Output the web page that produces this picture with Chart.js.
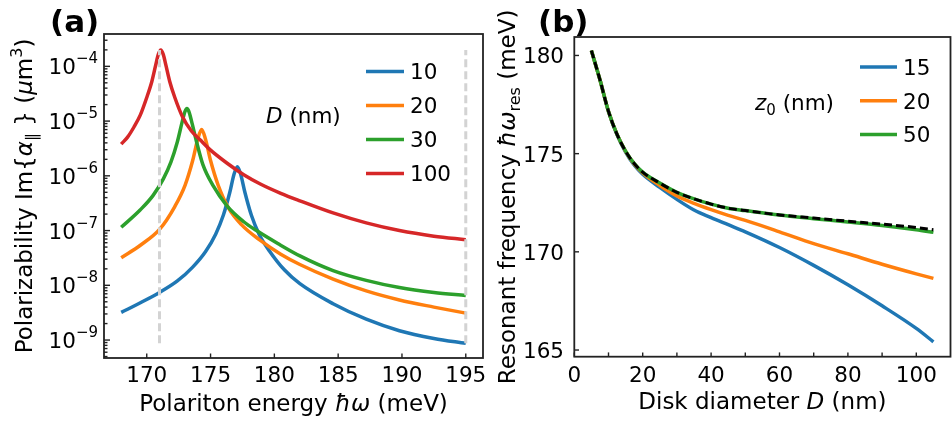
<!DOCTYPE html>
<html>
<head>
<meta charset="utf-8">
<script src="https://cdn.jsdelivr.net/npm/chart.js@4.4.1/dist/chart.umd.min.js"></script>
<style>
  body { margin: 0; background: #fff; }
  #wrap { position: relative; width: 952px; height: 424px; }
  #wrap canvas { position: absolute; left: 0; top: 0; }
</style>
</head>
<body>
<div id="wrap">
  <canvas id="chartA" width="952" height="424"></canvas>
  <canvas id="chartB" width="952" height="424"></canvas>
</div>
<script>
// ---------- panel (a): Im{alpha} vs polariton energy, one curve per D ----------
const aTickX = [170, 175, 180, 185, 190, 195];
const aTickExp = [-9, -8, -7, -6, -5, -4];
const aNames = ['10', '20', '30', '100'];

const e10 = [168, 169.5, 171, 172.4, 173.6, 174.6, 175.4, 176, 176.5, 176.85, 177.1, 177.35, 177.7, 178.2, 178.8, 179.6, 180.8, 182, 184.6, 187.2, 189.8, 192.5, 195];
const a10 = [3.2e-9, 4.8e-9, 7.4e-9, 1.2e-8, 2.15e-8, 4.1e-8, 8.6e-8, 1.9e-7, 4.9e-7, 1.09e-6, 1.46e-6, 1.09e-6, 4.9e-7, 1.9e-7, 8.6e-8, 4.3e-8, 1.9e-8, 1.07e-8, 4.6e-9, 2.4e-9, 1.48e-9, 1.07e-9, 8.7e-10];

const e20 = [168, 169.5, 171, 172.2, 173, 173.6, 174, 174.3, 174.6, 175, 175.6, 176.4, 177.4, 178.9, 180.5, 182, 184.6, 187.2, 189.8, 192.5, 195];
const a20 = [3.2e-8, 5.4e-8, 1.05e-7, 2.75e-7, 6.7e-7, 1.9e-6, 4.7e-6, 7.0e-6, 4.7e-6, 1.9e-6, 6.7e-7, 2.6e-7, 1.3e-7, 6.6e-8, 3.7e-8, 2.4e-8, 1.3e-8, 7.9e-9, 5.4e-9, 4.0e-9, 3.1e-9];

const e30 = [168, 169.5, 170.5, 171.3, 171.9, 172.4, 172.8, 173, 173.15, 173.3, 173.5, 173.9, 174.4, 175.2, 176.3, 177.6, 178.6, 180.3, 182, 184.6, 187.2, 189.8, 192.5, 195];
const a30 = [1.15e-7, 2.4e-7, 4.4e-7, 8.8e-7, 1.8e-6, 4.2e-6, 1.02e-5, 1.5e-5, 1.7e-5, 1.5e-5, 1.02e-5, 4.2e-6, 1.6e-6, 6.6e-7, 2.8e-7, 1.45e-7, 1.0e-7, 5.75e-8, 3.45e-8, 1.86e-8, 1.23e-8, 9.1e-9, 7.4e-9, 6.5e-9];

const e100 = [168, 168.5, 169, 169.5, 170, 170.4, 170.7, 170.9, 171.1, 171.3, 171.5, 171.8, 172.2, 172.8, 173.5, 174.2, 175, 176.3, 177.6, 178.9, 180.5, 182, 184.6, 187.2, 189.8, 192.5, 195];
const a100 = [3.8e-6, 5.1e-6, 7.8e-6, 1.3e-5, 2.7e-5, 5.3e-5, 1.05e-4, 1.64e-4, 2.0e-4, 1.64e-4, 1.05e-4, 5.3e-5, 2.7e-5, 1.2e-5, 6.6e-6, 4.5e-6, 2.95e-6, 1.7e-6, 1.05e-6, 7.1e-7, 4.8e-7, 3.5e-7, 2.1e-7, 1.38e-7, 1.0e-7, 7.9e-8, 6.8e-8];

// grey dashed markers
const markX = [171, 195];
const markLo = 8.7e-10, markHi = 2.0e-4;

// ---------- panel (b): resonance vs disk diameter ----------
const bTickX = [0, 20, 40, 60, 80, 100];
const bMinorX = [10, 30, 50, 70, 90];
const bTickY = [165, 170, 175, 180];
const bNames = ['15', '20', '50'];

const diam = [5, 7.5, 10, 12.5, 15, 17.5, 20, 25, 30, 35, 40, 45, 50, 60, 70, 80, 90, 100, 105];
const res15 = [180.25, 178.76, 177.14, 175.96, 175.08, 174.42, 173.95, 173.28, 172.67, 172.13, 171.74, 171.38, 171.02, 170.22, 169.31, 168.32, 167.25, 166.1, 165.42];
const res20 = [180.25, 178.76, 177.15, 175.98, 175.12, 174.48, 174.02, 173.38, 172.85, 172.47, 172.15, 171.86, 171.6, 171.02, 170.42, 169.9, 169.37, 168.88, 168.65];
const res50 = [180.25, 178.76, 177.15, 175.98, 175.13, 174.5, 174.06, 173.5, 173.03, 172.7, 172.43, 172.22, 172.1, 171.87, 171.69, 171.52, 171.34, 171.12, 170.99];
const resLim = [180.25, 178.76, 177.15, 175.98, 175.13, 174.5, 174.06, 173.5, 173.03, 172.7, 172.43, 172.22, 172.1, 171.88, 171.72, 171.56, 171.41, 171.24, 171.13];

const C = ['#1f77b4', '#ff7f0e', '#2ca02c', '#d62728'];
const FF = 'DejaVu Sans';
const fN = '21.5px ' + FF, fI = 'italic 21.5px ' + FF, fS = '15px ' + FF;
const fT = '23px ' + FF, fTI = 'italic 23px ' + FF, fTS = '16px ' + FF;

function pts(xs, ys) {
  return xs.map((x, i) => ({ x: x, y: ys[i] }));
}

function curve(xs, ys, color, order, extra) {
  return Object.assign({
    data: pts(xs, ys),
    borderColor: color,
    borderWidth: 3.5,
    pointRadius: 0,
    fill: false,
    cubicInterpolationMode: 'monotone',
    order: order
  }, extra || {});
}

// text made of pieces: [text, font, dy]
function rich(ctx, parts, x, y, align, rot) {
  ctx.save();
  ctx.translate(x, y);
  if (rot) ctx.rotate(rot);
  ctx.textAlign = 'left';
  ctx.textBaseline = 'alphabetic';
  ctx.fillStyle = '#000';
  let w = 0;
  parts.forEach(p => { ctx.font = p[1]; w += ctx.measureText(p[0]).width; });
  let cx = align === 'center' ? -w / 2 : (align === 'right' ? -w : 0);
  parts.forEach(p => {
    ctx.font = p[1];
    ctx.fillText(p[0], cx, p[2] || 0);
    cx += ctx.measureText(p[0]).width;
  });
  ctx.restore();
}

function tick(ctx, x1, y1, x2, y2) {
  ctx.beginPath();
  ctx.moveTo(x1, y1);
  ctx.lineTo(x2, y2);
  ctx.stroke();
}

function legend(ctx, names, colors, x1, x2, y0, step) {
  names.forEach((n, i) => {
    const y = y0 + i * step;
    ctx.strokeStyle = colors[i];
    ctx.lineWidth = 3.5;
    tick(ctx, x1, y, x2, y);
    rich(ctx, [[n, fN]], x2 + 6, y + 7.8, 'left');
  });
}

const decorA = {
  id: 'decorA',
  afterDraw(chart) {
    const ctx = chart.ctx, a = chart.chartArea;
    const sx = chart.scales.x, sy = chart.scales.y;
    ctx.save();
    ctx.strokeStyle = '#222';
    ctx.lineWidth = 1.4;
    aTickX.forEach(v => {
      const px = sx.getPixelForValue(v);
      tick(ctx, px, a.bottom, px, a.bottom - 4.5);
      rich(ctx, [[String(v), fN]], px, 381.5, 'center');
    });
    for (let e = -10; e <= -3; e++) {
      for (let m = 1; m <= 9; m++) {
        const v = m * Math.pow(10, e);
        if (v < sy.min || v > sy.max) continue;
        const py = sy.getPixelForValue(v);
        tick(ctx, a.left, py, a.left + (m === 1 ? 6 : 3.5), py);
      }
    }
    aTickExp.forEach(e => {
      const py = sy.getPixelForValue(Math.pow(10, e));
      rich(ctx, [['10', fN], ['\u2212' + Math.abs(e), fS, -11]], 98, py + 8, 'right');
    });
    ctx.lineWidth = 1.8;
    ctx.strokeRect(a.left, a.top, a.right - a.left, a.bottom - a.top);
    legend(ctx, aNames, C, 366, 404, 71.5, 34);
    rich(ctx, [['D', fI], [' (nm)', fN]], 266, 123, 'left');
    rich(ctx, [['Polariton energy ', fT], ['\u0127\u03c9', fTI], [' (meV)', fT]], (a.left + a.right) / 2, 410.5, 'center');
    rich(ctx, [['Polarizability Im{', fT], ['\u03b1', fTI], ['\u2225', fTS, 5], [' } (', fT], ['\u03bc', fTI], ['m', fT], ['3', fTS, -10], [')', fT]],
      31.5, (a.top + a.bottom) / 2, 'center', -Math.PI / 2);
    rich(ctx, [['(a)', 'bold 31px ' + FF]], 50, 31.5, 'left');
    ctx.restore();
  }
};

const decorB = {
  id: 'decorB',
  afterDraw(chart) {
    const ctx = chart.ctx, a = chart.chartArea;
    const sx = chart.scales.x, sy = chart.scales.y;
    ctx.save();
    ctx.strokeStyle = '#222';
    ctx.lineWidth = 1.4;
    bTickX.concat(bMinorX).forEach(v => {
      const px = sx.getPixelForValue(v);
      tick(ctx, px, a.bottom, px, a.bottom - 4.3);
    });
    bTickX.forEach(v => {
      rich(ctx, [[String(v), fN]], sx.getPixelForValue(v), 381.5, 'center');
    });
    bTickY.forEach(v => {
      const py = sy.getPixelForValue(v);
      tick(ctx, a.left, py, a.left + 4.7, py);
      rich(ctx, [[String(v), fN]], 564, py + 8, 'right');
    });
    ctx.lineWidth = 1.8;
    ctx.strokeRect(a.left, a.top, a.right - a.left, a.bottom - a.top);
    legend(ctx, bNames, C, 860, 897, 67, 33.8);
    rich(ctx, [['z', fI], ['0', fS, 5], [' (nm)', fN]], 755, 110, 'left');
    rich(ctx, [['Disk diameter ', fT], ['D', fTI], [' (nm)', fT]], (a.left + a.right) / 2, 408.5, 'center');
    rich(ctx, [['Resonant frequency ', fT], ['\u0127\u03c9', fTI], ['res', fTS, 5], [' (meV)', fT]],
      515, (a.top + a.bottom) / 2, 'center', -Math.PI / 2);
    rich(ctx, [['(b)', 'bold 31px ' + FF]], 538, 31.5, 'left');
    ctx.restore();
  }
};

const common = {
  responsive: false,
  animation: false,
  events: [],
  plugins: { legend: { display: false }, tooltip: { enabled: false } }
};

new Chart(document.getElementById('chartA'), {
  type: 'line',
  data: {
    datasets: [
      curve(e10, a10, C[0], 5),
      curve(e20, a20, C[1], 4),
      curve(e30, a30, C[2], 3),
      curve(e100, a100, C[3], 2),
      curve([markX[0], markX[0]], [markLo, markHi], '#d3d3d3', 1, { borderWidth: 3, borderDash: [8, 4], cubicInterpolationMode: 'default' }),
      curve([markX[1], markX[1]], [markLo, markHi], '#d3d3d3', 1, { borderWidth: 3, borderDash: [8, 4], cubicInterpolationMode: 'default' })
    ]
  },
  options: Object.assign({}, common, {
    layout: { padding: { left: 104, top: 34, right: 952 - 483, bottom: 424 - 358 } },
    scales: {
      x: { type: 'linear', display: false, min: 166.65, max: 196.35 },
      y: { type: 'logarithmic', display: false, min: 4.7e-10, max: 3.9e-4 }
    }
  }),
  plugins: [decorA]
});

new Chart(document.getElementById('chartB'), {
  type: 'line',
  data: {
    datasets: [
      curve(diam, res15, C[0], 4),
      curve(diam, res20, C[1], 3),
      curve(diam, res50, C[2], 2),
      curve(diam, resLim, '#000', 1, { borderWidth: 3, borderDash: [8, 4] })
    ]
  },
  options: Object.assign({}, common, {
    layout: { padding: { left: 574.3, top: 37, right: 952 - 950.5, bottom: 424 - 356.7 } },
    scales: {
      x: { type: 'linear', display: false, min: 0, max: 110 },
      y: { type: 'linear', display: false, min: 164.66, max: 180.94 }
    }
  }),
  plugins: [decorB]
});
</script>
</body>
</html>
